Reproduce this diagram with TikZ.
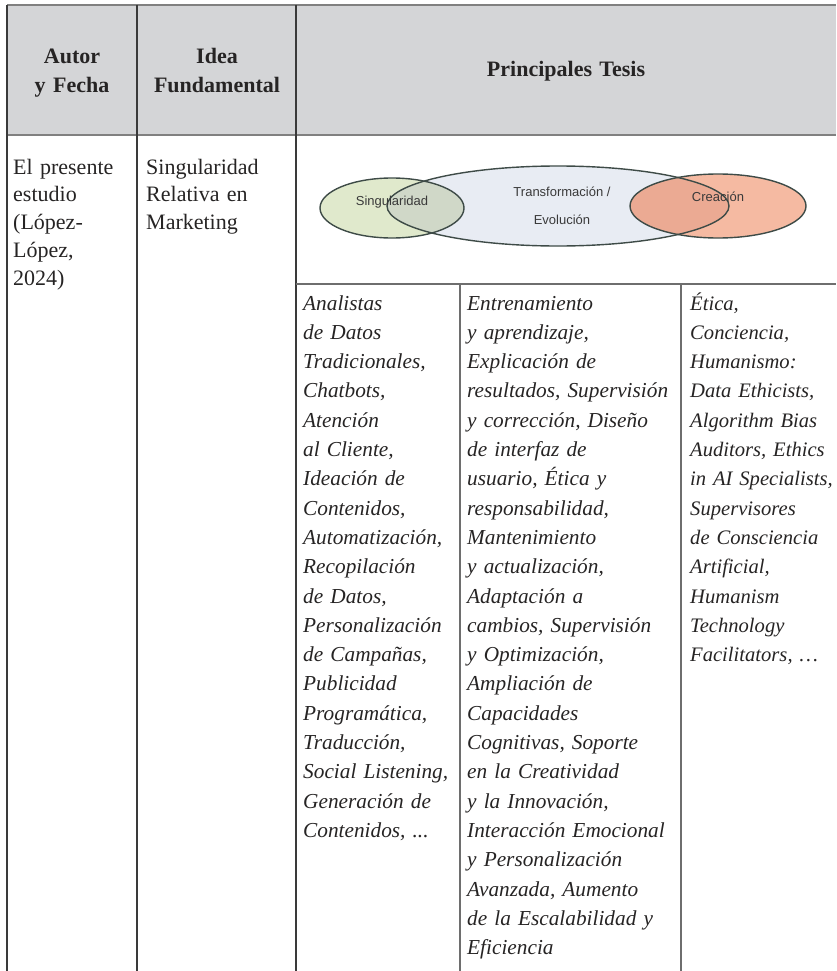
\documentclass[tikz,border=0pt]{standalone}
\usepackage{fontspec}
\setmainfont{Liberation Serif}
\newfontfamily\diagsans{Liberation Sans}
\definecolor{hdrfill}{HTML}{D4D5D7}
\definecolor{rulegray}{HTML}{808080}
\definecolor{ruledark}{HTML}{3A3A3A}
\definecolor{rulemid}{HTML}{6E6E6E}
\definecolor{txt}{HTML}{262424}
\definecolor{sgfill}{HTML}{E0E9CC}
\definecolor{trfill}{HTML}{E8ECF3}
\definecolor{crfill}{HTML}{F5BAA2}
\definecolor{sgtr}{HTML}{D0D8C8}
\definecolor{crtr}{HTML}{EBAA93}
\definecolor{ellline}{HTML}{3E4B47}
\definecolor{elltext}{HTML}{3A3A3A}
\begin{document}
\begin{tikzpicture}[x=1pt,y=-1pt,
  cell/.style={anchor=base west, inner sep=0pt, align=left, text width=#1, text=txt,
    font=\fontsize{22}{27.8}\selectfont},
  icell/.style={anchor=base west, inner sep=0pt, align=left, text width=#1, text=txt,
    font=\fontsize{21.3}{29.3}\selectfont\itshape},
  hdr/.style={anchor=base, inner sep=0pt, align=center, text width=#1, text=txt,
    font=\fontsize{22}{29}\selectfont\bfseries},
  elab/.style={inner sep=0pt, text=elltext, font=\diagsans\fontsize{13}{15}\selectfont},
  ell/.style={draw=ellline, line width=1.4pt},
  thick rule/.style={draw=rulegray, line width=2pt},
  col rule/.style={draw=ruledark, line width=1.3pt},
  sub rule/.style={draw=rulemid, line width=1.4pt}
]
\useasboundingbox (0,0) rectangle (836,971);
% header
\fill[hdrfill] (7,5) rectangle (836,135);
\draw[thick rule] (7,5) -- (836,5);
\draw[thick rule] (7,135) -- (836,135);
\draw[col rule] (7,5) -- (7,971);
\draw[col rule] (137,5) -- (137,971);
\draw[col rule] (296,5) -- (296,971);
\draw[sub rule] (296,284) -- (836,284);
\draw[sub rule] (460,284) -- (460,971);
\draw[sub rule] (681,284) -- (681,971);

\node[hdr=125] (hautor) at (72,64) {Autor\\y Fecha};
\node[hdr=150] (hidea) at (217,64) {Idea\\Fundamental};
\node[hdr=300] (htesis) at (566,77) {Principales Tesis};

% ellipses: fills
\fill[sgfill] (392,208) ellipse [x radius=72, y radius=30];
\fill[trfill] (558,206) ellipse [x radius=171, y radius=40];
\fill[crfill] (718,206) ellipse [x radius=88, y radius=32];
\begin{scope}
  \clip (392,208) ellipse [x radius=72, y radius=30];
  \fill[sgtr] (558,206) ellipse [x radius=171, y radius=40];
\end{scope}
\begin{scope}
  \clip (718,206) ellipse [x radius=88, y radius=32];
  \fill[crtr] (558,206) ellipse [x radius=171, y radius=40];
\end{scope}
% ellipses: outlines
\draw[ell] (392,208) ellipse [x radius=72, y radius=30];
\draw[ell] (558,206) ellipse [x radius=171, y radius=40];
\draw[ell] (718,206) ellipse [x radius=88, y radius=32];

\node[elab] (lsing) at (392,202) {Singularidad};
\node[elab] (ltrans) at (562,192) {Transformación /};
\node[elab] (levol) at (562,220) {Evolución};
\node[elab] (lcrea) at (718,197) {Creación};

% body cells
\node[cell=122] (autor) at (13,174) {El presente\\estudio\\(López-\\López,\\2024)};
\node[cell=148] (idea) at (146,174) {Singularidad\\Relativa en\\Marketing};

\node[icell=200] (cola) at (303,310) {Analistas\\de Datos\\Tradicionales,\\Chatbots,\\Atención\\al Cliente,\\Ideación de\\Contenidos,\\Automatización,\\Recopilación\\de Datos,\\Personalización\\de Campañas,\\Publicidad\\Programática,\\Traducción,\\Social Listening,\\Generación de\\Contenidos, ...};

\node[icell=230] (colb) at (467,310) {Entrenamiento\\y aprendizaje,\\Explicación de\\resultados, Supervisión\\y corrección, Diseño\\de interfaz de\\usuario, Ética y\\responsabilidad,\\Mantenimiento\\y actualización,\\Adaptación a\\cambios, Supervisión\\y Optimización,\\Ampliación de\\Capacidades\\Cognitivas, Soporte\\en la Creatividad\\y la Innovación,\\Interacción Emocional\\y Personalización\\Avanzada, Aumento\\de la Escalabilidad y\\Eficiencia};

\node[icell=200, font=\fontsize{20.6}{29.3}\selectfont\itshape] (colc) at (690,310) {Ética,\\Conciencia,\\Humanismo:\\Data Ethicists,\\Algorithm Bias\\Auditors, Ethics\\in AI Specialists,\\Supervisores\\de Consciencia\\Artificial,\\Humanism\\Technology\\Facilitators, …};
\end{tikzpicture}
\end{document}
